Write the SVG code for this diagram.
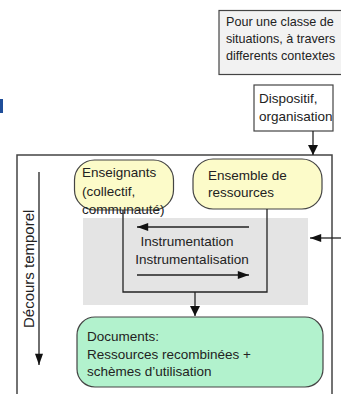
<svg xmlns="http://www.w3.org/2000/svg" width="341" height="394" viewBox="0 0 341 394">
<style>
text{font-family:"Liberation Sans",Arial,sans-serif;font-size:13.5px;fill:#222}
.sm{font-size:12.6px}
.ln{stroke:#222;stroke-width:1.3;fill:none}
.bx{stroke:#444;stroke-width:1.2}
</style>
<defs>
<marker id="ah" viewBox="0 0 10 10" refX="10" refY="5" markerWidth="10" markerHeight="10" markerUnits="userSpaceOnUse" orient="auto">
<path d="M0,0 L10,5 L0,10 z" fill="#111"/>
</marker>
<marker id="ahw" viewBox="0 0 14 10" refX="14" refY="5" markerWidth="14" markerHeight="8" markerUnits="userSpaceOnUse" orient="auto">
<path d="M0,0 L14,5 L0,10 z" fill="#111"/>
</marker>
</defs>
<rect width="341" height="394" fill="#fff"/>
<rect x="0" y="99" width="3" height="14" fill="#1f4e99"/>

<g id="contexte">
<rect class="bx" x="219" y="10.5" width="130" height="64" fill="#f2f2f2"/>
<text class="sm" x="226" y="26">Pour une classe de</text>
<text class="sm" x="226" y="43">situations, à travers</text>
<text class="sm" x="226" y="60">differents contextes</text>
</g>

<g id="dispositif">
<rect class="bx" x="254" y="85" width="79" height="46" fill="#fff"/>
<text x="259" y="103">Dispositif,</text>
<text x="259" y="121">organisation</text>
</g>

<g id="cadre">
<rect x="17" y="155" width="315" height="260" fill="#fff" stroke="#444" stroke-width="1.5"/>
</g>

<g id="zone-grise">
<rect x="83" y="218" width="225" height="87" fill="#e4e4e4"/>
</g>

<g id="decours">
<text transform="translate(34,328) rotate(-90)" style="font-size:15px">Décours temporel</text>
</g>

<g id="enseignants">
<rect class="bx" x="74.5" y="160" width="99" height="50" rx="20" fill="#fcfbc9"/>
<text x="82" y="177">Enseignants</text>
<text x="82" y="196">(collectif,</text>
<text x="82" y="214">communauté)</text>
</g>

<g id="ressources">
<rect class="bx" x="193" y="159" width="129" height="50" rx="20" fill="#fcfbc9"/>
<text x="208" y="180">Ensemble de</text>
<text x="208" y="197">ressources</text>
</g>

<g id="instrument">
<text x="187" y="246" text-anchor="middle">Instrumentation</text>
<text x="192" y="264" text-anchor="middle">Instrumentalisation</text>
</g>

<g id="documents">
<rect class="bx" x="77" y="317" width="246" height="70" rx="18" fill="#b2f2cd"/>
<text x="87" y="341">Documents:</text>
<text x="87" y="359">Ressources recombinées +</text>
<text x="87" y="376">schèmes d’utilisation</text>
</g>

<g id="connecteurs">
<line class="ln" x1="313" y1="131" x2="313" y2="155" marker-end="url(#ah)"/>
<line class="ln" x1="39" y1="172" x2="39" y2="365" marker-end="url(#ahw)"/>
<path class="ln" d="M123,210 V292 H267 V209"/>
<line class="ln" x1="249" y1="227" x2="137" y2="227" marker-end="url(#ahw)"/>
<line class="ln" x1="137" y1="275" x2="249" y2="275" marker-end="url(#ahw)"/>
<line class="ln" x1="195" y1="292" x2="195" y2="316" marker-end="url(#ah)"/>
<line class="ln" x1="341" y1="238" x2="310" y2="238" marker-end="url(#ahw)"/>
</g>
</svg>
